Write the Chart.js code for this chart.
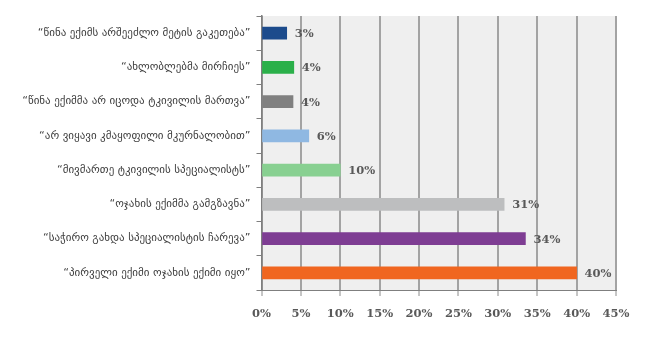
<!DOCTYPE html>
<html>
<head>
<meta charset="utf-8">
<script src="https://cdn.jsdelivr.net/npm/chart.js@4.4.1/dist/chart.umd.min.js"></script>
<style>
  html, body { margin: 0; padding: 0; background: #ffffff; }
  #wrap { width: 650px; height: 351px; position: relative; }
</style>
</head>
<body>
<div id="wrap"><canvas id="c" width="650" height="351"></canvas></div>
<script>
const categories = [
  "“წინა ექიმს არშეეძლო მეტის გაკეთება”",
  "“ახლობლებმა მირჩიეს”",
  "“წინა ექიმმა არ იცოდა ტკივილის მართვა”",
  "“არ ვიყავი კმაყოფილი მკურნალობით”",
  "“მივმართე ტკივილის სპეციალისტს”",
  "“ოჯახის ექიმმა გამგზავნა”",
  "“საჭირო გახდა სპეციალისტის ჩარევა”",
  "“პირველი ექიმი ოჯახის ექიმი იყო”"
];
const values = [3.2, 4.1, 4.0, 6.0, 10.0, 30.8, 33.5, 40.0];
const valueLabels = ["3%", "4%", "4%", "6%", "10%", "31%", "34%", "40%"];
const barColors = ["#1c4b8c", "#2bb04a", "#808080", "#8fb8e2", "#88d091", "#bdbebf", "#7e3d93", "#f06620"];
const xTicks = [0, 5, 10, 15, 20, 25, 30, 35, 40, 45];

const plotBg = {
  id: 'plotBg',
  beforeDraw(chart) {
    const {ctx, chartArea: a} = chart;
    ctx.save();
    ctx.fillStyle = '#efefef';
    ctx.fillRect(a.left, a.top, a.right - a.left, a.bottom - a.top);
    ctx.restore();
  }
};

const valueLabelPlugin = {
  id: 'valueLabels',
  afterDatasetsDraw(chart) {
    const {ctx} = chart;
    const meta = chart.getDatasetMeta(0);
    ctx.save();
    ctx.font = 'bold 11.5px "DejaVu Serif"';
    ctx.fillStyle = '#595959';
    ctx.textAlign = 'left';
    ctx.textBaseline = 'middle';
    meta.data.forEach((bar, i) => {
      ctx.fillText(valueLabels[i], bar.x + 8, bar.y + 1);
    });
    ctx.restore();
  }
};

new Chart(document.getElementById('c'), {
  type: 'bar',
  data: {
    labels: categories,
    datasets: [{
      data: values,
      backgroundColor: barColors,
      borderWidth: 0,
      barThickness: 12
    }]
  },
  options: {
    indexAxis: 'y',
    responsive: false,
    animation: false,
    layout: { padding: { top: 16, right: 34, bottom: 0, left: 0 } },
    plugins: { legend: { display: false }, tooltip: { enabled: false } },
    scales: {
      x: {
        min: 0,
        max: 45,
        afterBuildTicks(scale) { scale.ticks = xTicks.map(v => ({ value: v })); },
        afterFit(scale) { scale.height = 61; },
        ticks: {
          callback: (v) => v + '%',
          font: { family: '"DejaVu Serif"', size: 11.5, weight: 'bold' },
          color: '#595959',
          padding: 11,
          maxRotation: 0
        },
        grid: {
          color: '#a3a3a3',
          lineWidth: 2,
          tickLength: 6,
          tickColor: '#8c8c8c',
          tickWidth: 1
        },
        border: { color: '#7f7f7f', width: 1 }
      },
      y: {
        afterFit(scale) { scale.width = 261.5; },
        ticks: {
          font: { family: '"DejaVu Sans"', size: 11 },
          color: '#404040',
          padding: 6
        },
        grid: {
          drawOnChartArea: false,
          tickLength: 5,
          color: '#7f7f7f'
        },
        border: { color: '#7f7f7f', width: 1.5 }
      }
    }
  },
  plugins: [plotBg, valueLabelPlugin]
});
</script>
</body>
</html>
